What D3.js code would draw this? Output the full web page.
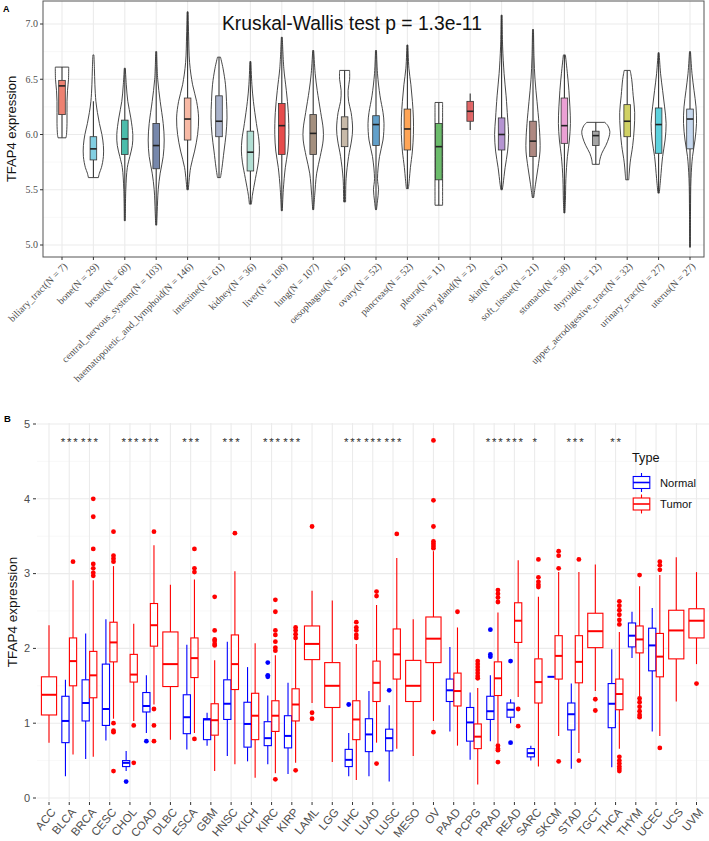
<!DOCTYPE html>
<html><head><meta charset="utf-8">
<script src="https://cdn.jsdelivr.net/npm/d3@7"></script>
<style>body{margin:0;background:#fff} svg text{font-family:"Liberation Sans",Arial,sans-serif}</style>
</head><body><svg id="c" width="709" height="841"></svg>
<script>
// ---------- Panel A data ----------
const tissues = ["biliary_tract","bone","breast","central_nervous_system","haematopoietic_and_lymphoid","intestine","kidney","liver","lung","oesophagus","ovary","pancreas","pleura","salivary gland","skin","soft_tissue","stomach","thyroid","upper_aerodigestive_tract","urinary_tract","uterus"];
const tissueN = [7,29,60,103,146,61,36,108,107,26,52,52,11,2,62,21,38,12,32,27,27];
const tissueColors = ["#E64B35","#4DBBD5","#00A087","#3C5488","#F39B7F","#8491B4","#91D1C2","#DC0000","#7E6148","#B09C85","#1F77B4","#FF7F0E","#2CA02C","#D62728","#9467BD","#8C564B","#E377C2","#7F7F7F","#BCBD22","#17BECF","#AEC7E8"];
// [lowerWhisker, Q1, median, Q3, upperWhisker]
const tissueBox = [
 [5.97,6.18,6.44,6.49,6.61],[5.61,5.77,5.87,5.98,6.30],[5.22,5.82,5.96,6.13,6.60],[5.18,5.69,5.90,6.10,6.75],
 [5.50,5.95,6.14,6.33,7.11],[5.61,5.98,6.12,6.35,6.70],[5.37,5.67,5.84,6.03,6.66],[5.31,5.82,6.08,6.28,6.88],
 [5.32,5.82,6.01,6.18,6.76],[5.39,5.89,6.05,6.16,6.58],[5.32,5.90,6.09,6.17,6.76],[5.51,5.86,6.05,6.23,6.81],
 [5.36,5.59,5.89,6.10,6.29],[6.04,6.12,6.21,6.30,6.37],[5.50,5.86,6.00,6.15,7.08],[5.43,5.80,5.94,6.12,6.95],
 [5.29,5.92,6.08,6.33,6.72],[5.73,5.90,5.99,6.03,6.11],[5.59,5.98,6.12,6.27,6.58],[5.47,5.83,6.09,6.24,6.74],
 [4.98,5.87,6.14,6.23,6.75]];
// violin outlines: [expression, relative half-width]
const violinShapes = [
 [[6.61,6.7],[6.5,6.5],[6.4,5.5],[6.3,5],[6.2,5],[6.1,5],[6.0,4.5],[5.97,4]],
 [[6.72,0.5],[6.6,1],[6.45,1.5],[6.3,2.5],[6.2,4],[6.1,6],[6.0,8.5],[5.9,10],[5.8,10],[5.7,8],[5.65,6],[5.61,5]],
 [[6.60,0.5],[6.45,1.5],[6.3,3],[6.15,6],[6.0,8],[5.9,7.5],[5.8,5],[5.7,2.5],[5.5,1],[5.22,0.5]],
 [[6.75,0.5],[6.5,1.5],[6.3,4],[6.1,7],[5.95,8],[5.8,7],[5.65,4],[5.5,2],[5.3,1],[5.18,0.5]],
 [[7.11,0.5],[6.9,1],[6.65,2],[6.45,5],[6.3,9],[6.15,11],[6.0,10],[5.85,7],[5.7,3],[5.5,0.7]],
 [[6.70,1.5],[6.6,4],[6.45,6.5],[6.3,7.5],[6.15,8],[6.0,7],[5.85,5],[5.7,3],[5.61,1.5]],
 [[6.66,0.5],[6.45,1.5],[6.3,3],[6.1,6],[5.95,8.5],[5.85,9],[5.75,8],[5.6,5],[5.45,2],[5.37,1]],
 [[6.88,0.5],[6.6,2],[6.4,4.5],[6.2,6.5],[6.0,7],[5.85,6],[5.7,3.5],[5.5,1.5],[5.31,0.5]],
 [[6.76,0.5],[6.55,2],[6.4,4],[6.2,7.5],[6.05,10],[5.95,10],[5.8,7],[5.65,3.5],[5.45,1.5],[5.32,0.5]],
 [[6.58,5],[6.5,5],[6.4,3.5],[6.3,4],[6.2,6.5],[6.05,8],[5.95,7],[5.8,4],[5.6,1.5],[5.39,1]],
 [[6.76,0.5],[6.55,1.5],[6.35,4],[6.2,7],[6.1,8],[5.95,7],[5.8,3.5],[5.6,1.5],[5.5,2.5],[5.4,1.5],[5.32,0.5]],
 [[6.81,0.5],[6.6,1.5],[6.45,3.5],[6.3,5],[6.15,6],[6.0,6],[5.85,5],[5.7,3],[5.6,2],[5.51,1]],
 [[6.29,3.8],[6.2,3.8],[6.0,3.8],[5.8,3.8],[5.6,3.8],[5.45,3.8],[5.36,3.8]],
 null,
 [[7.08,0.5],[6.8,1],[6.55,2.5],[6.35,4.5],[6.15,6],[6.0,7],[5.85,6],[5.7,3.5],[5.55,1.5],[5.50,0.7]],
 [[6.95,0.5],[6.7,1],[6.5,2],[6.3,4],[6.1,6],[5.95,7],[5.85,7],[5.7,5],[5.55,2.5],[5.43,0.7]],
 [[6.72,1],[6.55,3],[6.4,4.5],[6.25,5.5],[6.1,6],[5.95,5],[5.8,3],[5.6,1.5],[5.4,1],[5.29,0.5]],
 [[6.11,9],[6.08,12],[6.03,14],[5.97,13],[5.9,10],[5.83,6],[5.77,4],[5.73,3.5]],
 [[6.58,3],[6.5,4.5],[6.35,6],[6.2,7.5],[6.05,7],[5.9,5.5],[5.75,3],[5.65,2],[5.59,1.5]],
 [[6.74,0.5],[6.55,2],[6.4,4],[6.25,6],[6.1,7.5],[5.95,6.5],[5.8,4],[5.6,2],[5.47,0.7]],
 [[6.75,0.5],[6.55,2],[6.4,4],[6.25,6],[6.1,6.5],[5.95,5],[5.8,2.5],[5.6,1],[5.3,0.5],[4.98,0.3]]];
const yTicksA = [5.0,5.5,6.0,6.5,7.0];
const titleA = "Kruskal-Wallis test p = 1.3e-11";

// ---------- Panel B data ----------
const cancers = ["ACC","BLCA","BRCA","CESC","CHOL","COAD","DLBC","ESCA","GBM","HNSC","KICH","KIRC","KIRP","LAML","LGG","LIHC","LUAD","LUSC","MESO","OV","PAAD","PCPG","PRAD","READ","SARC","SKCM","STAD","TGCT","THCA","THYM","UCEC","UCS","UVM"];
// [lowerWhisker, Q1, median, Q3, upperWhisker]
const normalStats = [null,[0.29,0.74,1.03,1.36,1.58],[0.52,1.03,1.27,1.58,2.20],[0.77,0.97,1.19,1.79,2.39],[0.36,0.42,0.47,0.50,0.63],[0.87,1.15,1.23,1.41,1.64],null,[0.65,0.86,1.08,1.38,2.05],[0.70,0.78,1.05,1.06,1.14],[0.56,1.05,1.26,1.58,2.09],[0.49,0.68,0.99,1.28,1.75],[0.45,0.70,0.80,1.02,1.37],[0.32,0.67,0.83,1.10,1.54],null,null,[0.29,0.42,0.51,0.65,0.87],[0.29,0.62,0.85,1.06,1.43],[0.22,0.63,0.80,0.92,1.24],null,null,[0.89,1.29,1.44,1.59,2.02],[0.51,0.76,1.01,1.21,1.41],[0.76,1.05,1.16,1.36,1.64],[1.00,1.08,1.18,1.27,1.32],[0.50,0.55,0.60,0.66,0.70],[1.62,1.62,1.62,1.62,1.62],[0.39,0.91,1.12,1.27,1.53],null,[0.41,0.94,1.26,1.53,1.99],[1.87,2.02,2.17,2.34,2.49],[0.89,1.70,2.04,2.27,2.54],null,null];
const normalOutliers = [[],[],[],[],[0.22],[0.76],[],[],[],[],[],[1.81,1.64,1.62],[],[],[],[1.25],[],[1.44],[],[],[],[],[2.25,1.92,1.89],[1.83,0.74],[],[],[],[],[],[],[],[],[]];
const tumorStats = [[0.74,1.11,1.38,1.62,2.31],[0.58,1.50,1.83,2.14,2.91],[0.55,1.34,1.64,1.96,2.91],[1.06,1.82,2.08,2.35,3.10],[1.03,1.55,1.65,1.92,2.33],[1.25,2.03,2.31,2.60,3.38],[0.78,1.49,1.79,2.22,2.85],[0.87,1.61,1.87,2.14,2.92],[0.36,0.84,1.04,1.26,1.84],[0.45,1.45,1.79,2.18,3.03],[0.27,0.78,1.10,1.40,2.07],[0.33,0.89,1.10,1.30,1.91],[0.47,1.03,1.25,1.46,2.12],[1.27,1.85,2.06,2.30,2.77],[0.48,1.21,1.50,1.81,2.64],[0.24,0.78,1.05,1.30,2.06],[0.74,1.29,1.54,1.83,2.58],[0.66,1.59,1.92,2.26,3.21],[0.56,1.29,1.50,1.84,2.39],[1.03,1.81,2.13,2.42,3.30],[0.70,1.23,1.43,1.67,2.28],[0.18,0.66,0.82,0.99,1.47],[0.73,1.37,1.60,1.82,2.48],[1.35,2.08,2.37,2.61,3.18],[0.42,1.27,1.55,1.86,2.69],[0.83,1.59,1.90,2.17,3.02],[0.60,1.54,1.82,2.17,3.02],[1.43,2.01,2.23,2.47,3.12],[0.66,1.18,1.39,1.59,2.22],[1.36,1.94,2.12,2.30,2.83],[0.83,1.62,1.89,2.20,2.98],[1.29,1.86,2.24,2.51,3.22],[1.79,2.14,2.37,2.53,3.02]];
const tumorOutliers = [[],[3.16],[4.00,3.76,3.33,3.13,3.07,3.01,2.97],[3.56,3.24,3.20,3.16,1.00,0.90,0.88,0.36],[0.97,0.47],[3.56,1.19,0.97,0.76],[],[3.33,3.07,3.02,0.79],[2.69,2.24,2.12,2.10,2.06,2.04],[3.54],[],[2.65,2.49,2.24,2.18,2.09,2.01,1.97,0.25],[2.28,2.24,2.19,2.14,0.37],[3.63,1.14,1.06],[],[2.35,2.28,2.24,2.18,2.14],[2.76,2.70,0.46],[3.53],[],[4.78,3.98,3.63,3.43,3.40,3.37,3.34,0.88],[2.49],[1.83,1.79,1.75,1.71,1.67,1.63,1.60],[2.78,2.73,2.68,2.62,0.70,0.66,0.64,0.48],[1.19,0.96],[3.19,2.95,2.89,2.85,2.82],[3.30,3.24,3.07,0.49],[3.19,0.50],[1.32,1.17],[2.63,2.57,2.51,2.45,2.38,2.32,0.55,0.50,0.46,0.42,0.39,0.36],[2.98,1.33,1.28,1.22,1.16,1.11,1.08],[3.16,3.11,3.05,0.67],[],[1.53]];
const sigLabels = ["","***","***","","***","***","","***","","***","","***","***","","","***","***","***","","","","","***","***","*","","***","","**","","","",""];
const sigY = 4.8;
const yTicksB = [0,1,2,3,4,5];
const groupNames = ["Normal","Tumor"];
const groupColors = ["#0000FF","#FF0000"];

// ---------- drawing ----------
const svg = d3.select("#c");
const grey = "#4D4D4D";

// Panel A
const A = {l:43, r:704, t:1, b:257};
const xA = d3.scalePoint().domain(tissues).range([62, 690]);
const stepA = xA.step();
const yA = d3.scaleLinear().domain([5,7]).range([245,24]);
const gA = svg.append("g");
const minorA = [5.25,5.75,6.25,6.75];
gA.selectAll(".mnA").data(minorA).join("line").attr("x1",A.l).attr("x2",A.r)
  .attr("y1",d=>yA(d)).attr("y2",d=>yA(d)).attr("stroke","#F3F3F3").attr("stroke-width",0.6);
gA.selectAll(".mjA").data(yTicksA).join("line").attr("x1",A.l).attr("x2",A.r)
  .attr("y1",d=>yA(d)).attr("y2",d=>yA(d)).attr("stroke","#EBEBEB").attr("stroke-width",1.1);
gA.selectAll(".vgA").data(tissues).join("line").attr("x1",d=>xA(d)).attr("x2",d=>xA(d))
  .attr("y1",A.t).attr("y2",A.b).attr("stroke","#EBEBEB").attr("stroke-width",1.1);

const wScale = stepA/31.4;
const area = d3.area().y(d=>yA(d[0])).curve(d3.curveCatmullRom);
tissues.forEach((t,i)=>{
  const cx = xA(t);
  const shape = violinShapes[i];
  if (shape) {
    gA.append("path").datum(shape)
      .attr("d", area.x0(d=>cx-d[1]*wScale).x1(d=>cx+d[1]*wScale))
      .attr("fill","#fff").attr("stroke","#333").attr("stroke-width",0.9);
  }
  const [lo,q1,md,q3,hi] = tissueBox[i];
  const bw = stepA*0.21;
  gA.append("line").attr("x1",cx).attr("x2",cx).attr("y1",yA(hi)).attr("y2",yA(q3)).attr("stroke","#333").attr("stroke-width",1.1);
  gA.append("line").attr("x1",cx).attr("x2",cx).attr("y1",yA(q1)).attr("y2",yA(lo)).attr("stroke","#333").attr("stroke-width",1.1);
  gA.append("rect").attr("x",cx-bw/2).attr("width",bw).attr("y",yA(q3)).attr("height",yA(q1)-yA(q3))
    .attr("fill",tissueColors[i]).attr("fill-opacity",0.7).attr("stroke","#333").attr("stroke-width",0.8);
  gA.append("line").attr("x1",cx-bw/2).attr("x2",cx+bw/2).attr("y1",yA(md)).attr("y2",yA(md)).attr("stroke","#222").attr("stroke-width",1.6);
});
gA.append("rect").attr("x",A.l).attr("y",A.t).attr("width",A.r-A.l).attr("height",A.b-A.t)
  .attr("fill","none").attr("stroke","#555").attr("stroke-width",1);
gA.selectAll(".ytA").data(yTicksA).join("line").attr("x1",A.l-3).attr("x2",A.l).attr("y1",d=>yA(d)).attr("y2",d=>yA(d)).attr("stroke","#333");
gA.selectAll(".ylA").data(yTicksA).join("text").attr("x",A.l-5).attr("y",d=>yA(d)).attr("dy","0.33em")
  .attr("text-anchor","end").style("font-family","'Liberation Serif',serif").style("font-size","10px").attr("fill",grey)
  .text(d=>d.toFixed(1));
gA.selectAll(".xtA").data(tissues).join("line").attr("x1",d=>xA(d)).attr("x2",d=>xA(d)).attr("y1",A.b).attr("y2",A.b+3).attr("stroke","#333");
gA.selectAll(".xlA").data(tissues).join("text")
  .attr("transform",d=>`translate(${xA(d)+1},${A.b+5}) rotate(-45)`).attr("dy","0.7em")
  .attr("text-anchor","end").style("font-family","'Liberation Serif',serif").style("font-size","10px").attr("fill",grey)
  .text((d,i)=>`${d}(N = ${tissueN[i]})`);
gA.append("text").attr("transform",`translate(16,${(A.t+A.b)/2}) rotate(-90)`).attr("text-anchor","middle")
  .style("font-size","13px").attr("fill","#111").text("TFAP4 expression");
gA.append("text").attr("x",222).attr("y",30).style("font-size","19.3px").attr("fill","#111").text(titleA);
svg.append("text").attr("x",3).attr("y",12).style("font-size","9px").style("font-weight","bold").text("A");

// Panel B
const B = {l:37, r:709, t:423, b:801};
const xB = d3.scalePoint().domain(cancers).range([49, 696.5]);
const stepB = xB.step();
const yB = d3.scaleLinear().domain([0,5]).range([798,424]);
const gB = svg.append("g");
const minorB = [0.5,1.5,2.5,3.5,4.5];
gB.selectAll(".mnB").data(minorB).join("line").attr("x1",B.l).attr("x2",B.r)
  .attr("y1",d=>yB(d)).attr("y2",d=>yB(d)).attr("stroke","#F3F3F3").attr("stroke-width",0.6);
gB.selectAll(".mjB").data(yTicksB).join("line").attr("x1",B.l).attr("x2",B.r)
  .attr("y1",d=>yB(d)).attr("y2",d=>yB(d)).attr("stroke","#EBEBEB").attr("stroke-width",1.1);
gB.selectAll(".vgB").data(cancers).join("line").attr("x1",d=>xB(d)).attr("x2",d=>xB(d))
  .attr("y1",B.t).attr("y2",B.b).attr("stroke","#EBEBEB").attr("stroke-width",1.1);

function drawBox(g, cx, w, st, outs, col){
  const [lo,q1,md,q3,hi] = st;
  g.append("line").attr("x1",cx).attr("x2",cx).attr("y1",yB(hi)).attr("y2",yB(q3)).attr("stroke",col).attr("stroke-width",1.1);
  g.append("line").attr("x1",cx).attr("x2",cx).attr("y1",yB(q1)).attr("y2",yB(lo)).attr("stroke",col).attr("stroke-width",1.1);
  g.append("rect").attr("x",cx-w/2).attr("width",w).attr("y",yB(q3)).attr("height",Math.max(0,yB(q1)-yB(q3)))
    .attr("fill","#fff").attr("stroke",col).attr("stroke-width",1.1);
  g.append("line").attr("x1",cx-w/2).attr("x2",cx+w/2).attr("y1",yB(md)).attr("y2",yB(md)).attr("stroke",col).attr("stroke-width",2);
  g.selectAll(null).data(outs).join("circle").attr("cx",cx).attr("cy",d=>yB(d)).attr("r",2.4).attr("fill",col);
}
cancers.forEach((c,i)=>{
  const cx = xB(c);
  if (normalStats[i]) {
    const w = stepB*0.375*0.95;
    drawBox(gB, cx-stepB*0.1875, w, normalStats[i], normalOutliers[i], groupColors[0]);
    drawBox(gB, cx+stepB*0.1875, w, tumorStats[i], tumorOutliers[i], groupColors[1]);
  } else {
    drawBox(gB, cx, stepB*0.75, tumorStats[i], tumorOutliers[i], groupColors[1]);
  }
});
gB.selectAll(".sig").data(cancers).join("text").attr("x",d=>xB(d)+0.9).attr("y",yB(sigY)+7)
  .attr("text-anchor","middle").style("font-size","11.5px").style("letter-spacing","1.8px").attr("fill","#333")
  .text((d,i)=>sigLabels[i]);
gB.selectAll(".ytB").data(yTicksB).join("line").attr("x1",B.l-4).attr("x2",B.l-1).attr("y1",d=>yB(d)).attr("y2",d=>yB(d)).attr("stroke","#333");
gB.selectAll(".ylB").data(yTicksB).join("text").attr("x",B.l-7).attr("y",d=>yB(d)).attr("dy","0.35em")
  .attr("text-anchor","end").style("font-size","11px").attr("fill",grey).text(d=>d);
gB.selectAll(".xtB").data(cancers).join("line").attr("x1",d=>xB(d)).attr("x2",d=>xB(d)).attr("y1",B.b+1).attr("y2",B.b+4).attr("stroke","#333");
gB.selectAll(".xlB").data(cancers).join("text")
  .attr("transform",d=>`translate(${xB(d)+1},${B.b+6}) rotate(-50)`).attr("dy","0.72em")
  .attr("text-anchor","end").style("font-size","11.5px").attr("fill",grey).text(d=>d);
gB.append("text").attr("transform",`translate(17,${(B.t+B.b)/2}) rotate(-90)`).attr("text-anchor","middle")
  .style("font-size","13.5px").attr("fill","#111").text("TFAP4 expression");
svg.append("text").attr("x",4).attr("y",422).style("font-size","9.5px").style("font-weight","bold").text("B");
const lg = svg.append("g");
lg.append("text").attr("x",632).attr("y",462).style("font-size","12.7px").attr("fill","#111").text("Type");
const keyY = [482.5, 504];
groupNames.forEach((n,i)=>{
  const cy = keyY[i], cx = 641.5, col = groupColors[i];
  lg.append("line").attr("x1",cx).attr("x2",cx).attr("y1",cy-9.5).attr("y2",cy+9.5).attr("stroke",col).attr("stroke-width",1.1);
  lg.append("rect").attr("x",cx-8.3).attr("y",cy-6).attr("width",16.6).attr("height",12).attr("fill","#fff").attr("stroke",col).attr("stroke-width",1.1);
  lg.append("line").attr("x1",cx-8.3).attr("x2",cx+8.3).attr("y1",cy).attr("y2",cy).attr("stroke",col).attr("stroke-width",1.6);
  lg.append("text").attr("x",660).attr("y",cy+4).style("font-size","11.2px").attr("fill","#111").text(n);
});
</script></body></html>
